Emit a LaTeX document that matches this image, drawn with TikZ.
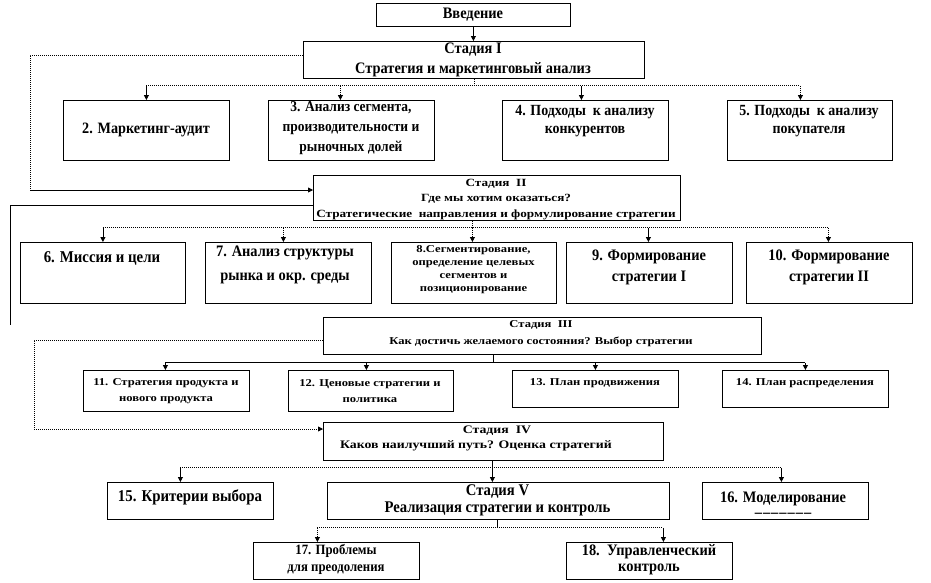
\documentclass[tikz,border=0pt]{standalone}
\usepackage{fontspec}
\setmainfont{Liberation Serif}
\newfontfamily\wdf[FakeStretch=1.2]{Liberation Serif}
\newfontfamily\cdf[FakeStretch=0.9]{Liberation Serif}
\usetikzlibrary{arrows.meta}
\newcommand\fsz[2]{\fontsize{#1}{#2}\selectfont\bfseries}
\begin{document}
\begin{tikzpicture}[x=1pt,y=-1pt,
  box/.style={draw, line width=0.8pt, inner sep=0pt, anchor=north west},
  txt/.style={align=center, inner sep=0pt},
  dot/.style={line width=0.8pt, dash pattern=on 1pt off 1pt},
  sol/.style={line width=0.8pt},
  tip/.style={-{Triangle[length=5pt,width=5pt]}}]
\fill[white] (0,0) rectangle (931,582);
\useasboundingbox (0,0) rectangle (931,582);

% ---- boxes and texts
\node[box, minimum width=194pt, minimum height=23pt] (vv) at (376,3) {};
\node[txt, font=\cdf\fsz{16}{20}] (tvv) at (473,15) {Введение};

\node[box, minimum width=341pt, minimum height=37pt] (s1) at (303,41) {};
\node[txt, font=\cdf\fsz{16}{20}] (ts1) at (473,60) {Стадия I\\Стратегия и маркетинговый анализ};

\node[box, minimum width=166pt, minimum height=60pt] (b2) at (63,100) {};
\node[txt, font=\cdf\fsz{15.8}{20}] (t2) at (146,130) {2. Маркетинг-аудит};
\node[box, minimum width=166pt, minimum height=60pt] (b3) at (268,100) {};
\node[txt, font=\cdf\fsz{15}{20}] (t3) at (351,128) {3. Анализ сегмента,\\производительности и\\рыночных долей};
\node[box, minimum width=166pt, minimum height=60pt] (b4) at (502,100) {};
\node[txt, font=\cdf\fsz{15.5}{18}] (t4) at (585,121) {4. Подходы\ \ к анализу\\конкурентов};
\node[box, minimum width=165pt, minimum height=60pt] (b5) at (727,100) {};
\node[txt, font=\cdf\fsz{15.5}{18}] (t5) at (809,121) {5. Подходы\ \ к анализу\\покупателя};

\node[box, minimum width=367pt, minimum height=45pt] (s2) at (313,175) {};
\node[txt, font=\wdf\fsz{11}{15.5}] (ts2) at (496,199.5) {Стадия\ \ II\\Где мы хотим оказаться?\\Стратегические\ \ направления и формулирование стратегии};

\node[box, minimum width=165pt, minimum height=61pt] (b6) at (20,242) {};
\node[txt, font=\cdf\fsz{16.5}{20}] (t6) at (102,258) {6. Миссия и цели};
\node[box, minimum width=166pt, minimum height=61pt] (b7) at (205,242) {};
\node[txt, font=\cdf\fsz{16}{24}] (t7) at (285,265) {7. Анализ структуры\\рынка и окр. среды};
\node[box, minimum width=165pt, minimum height=61pt] (b8) at (391,242) {};
\node[txt, font=\wdf\fsz{10.5}{13}] (t8) at (473.5,269.5) {8.Сегментирование,\\определение целевых\\сегментов и\\позиционирование};
\node[box, minimum width=166pt, minimum height=61pt] (b9) at (566,242) {};
\node[txt, font=\cdf\fsz{16}{21}] (t9) at (649,267.5) {9. Формирование\\стратегии I};
\node[box, minimum width=166pt, minimum height=61pt] (b10) at (746,242) {};
\node[txt, font=\cdf\fsz{16}{21}] (t10) at (829,267.5) {10. Формирование\\стратегии II};

\node[box, minimum width=438pt, minimum height=37pt] (s3) at (323,317) {};
\node[txt, font=\wdf\fsz{10.5}{17}] (ts3) at (541,333.5) {Стадия\ \ III\\Как достичь желаемого состояния? Выбор стратегии};

\node[box, minimum width=166pt, minimum height=41pt] (b11) at (83,370) {};
\node[txt, font=\wdf\fsz{10.5}{16}] (t11) at (166,391) {11. Стратегия продукта и\\нового продукта};
\node[box, minimum width=165pt, minimum height=41pt] (b12) at (288,370) {};
\node[txt, font=\wdf\fsz{10.5}{16}] (t12) at (370,391) {12. Ценовые стратегии и\\политика};
\node[box, minimum width=166pt, minimum height=37pt] (b13) at (512,370) {};
\node[txt, font=\wdf\fsz{10.5}{16}] (t13) at (595,383) {13. План продвижения};
\node[box, minimum width=166pt, minimum height=37pt] (b14) at (722,370) {};
\node[txt, font=\wdf\fsz{10.5}{16}] (t14) at (805,383) {14. План распределения};

\node[box, minimum width=340pt, minimum height=38pt] (s4) at (323,422) {};
\node[txt, font=\wdf\fsz{11.5}{15}] (ts4) at (476,438.5) {\hspace*{42pt}Стадия\ \ IV\\Каков наилучший путь? Оценка стратегий};

\node[box, minimum width=166pt, minimum height=37pt] (b15) at (107,482) {};
\node[txt, font=\cdf\fsz{16.5}{20}] (t15) at (190,497) {15. Критерии выбора};
\node[box, minimum width=342pt, minimum height=37pt] (s5) at (327,482) {};
\node[txt, font=\cdf\fsz{16.3}{17}] (ts5) at (497.5,500.5) {Стадия V\\Реализация стратегии и контроль};
\node[box, minimum width=166pt, minimum height=37pt] (b16) at (702,482) {};
\node[txt, font=\cdf\fsz{16}{15}] (t16) at (783,504.5) {16. Моделирование\\–\kern1pt–\kern1pt–\kern1pt–\kern1pt–\kern1pt–\kern1pt–};

\node[box, minimum width=166pt, minimum height=37pt] (b17) at (253,542) {};
\node[txt, font=\cdf\fsz{14.2}{17}] (t17) at (336,559.5) {17. Проблемы\\для преодоления};
\node[box, minimum width=166pt, minimum height=37pt] (b18) at (566,542) {};
\node[txt, font=\cdf\fsz{16}{16}] (t18) at (649,560) {18.\ \ Управленческий\\контроль};

% ---- connectors
\draw[sol,tip] (vv.south) -- (vv.south |- s1.north);

% Stage I bus
\path (s1.south) ++(0,7) coordinate (j1);
\coordinate (p2) at (b2.north);
\coordinate (p3) at ([xshift=-11pt]b3.north);
\coordinate (p4) at ([xshift=-4pt]b4.north);
\coordinate (p5) at ([xshift=-9.5pt]b5.north);
\draw[dot] (s1.south) -- (j1);
\draw[dot] (j1 -| p2) -- (j1 -| p5);
\draw[sol,tip] (j1 -| p2) -- (p2);
\draw[dot,tip] (j1 -| p3) -- (p3);
\draw[sol,tip] (j1 -| p4) -- (p4);
\draw[dot,tip] (j1 -| p5) -- (p5);

% feedback Stage I -> Stage II
\coordinate (c1) at (30,190);
\draw[dot] ([yshift=4.5pt]s1.west) -| (c1);
\draw[sol,tip] (c1) -- (c1 -| s2.west);

% Stage II left line
\coordinate (c2) at (10,325);
\draw[sol] ([yshift=-7.5pt]s2.west) -| (c2);

% Stage II bus
\coordinate (k2) at ([xshift=-24.5pt]s2.south);
\path (k2) ++(0,7) coordinate (j2);
\coordinate (p6) at (b6.north);
\coordinate (p7) at ([xshift=-5pt]b7.north);
\coordinate (p8) at ([xshift=-1.5pt]b8.north);
\coordinate (p9) at ([xshift=-1pt]b9.north);
\coordinate (p10) at ([xshift=-1pt]b10.north);
\draw[dot] (k2) -- (j2);
\draw[dot] (j2 -| p6) -- (j2 -| p10);
\draw[sol,tip] (j2 -| p6) -- (p6);
\draw[dot,tip] (j2 -| p7) -- (p7);
\draw[dot,tip] (j2 -| p8) -- (p8);
\draw[sol,tip] (j2 -| p9) -- (p9);
\draw[dot,tip] (j2 -| p10) -- (p10);

% Stage III bus
\coordinate (k3) at ([xshift=-49pt]s3.south);
\path (k3) ++(0,8) coordinate (j3);
\coordinate (p11) at ([xshift=-1pt]b11.north);
\coordinate (p12) at ([xshift=-4.5pt]b12.north);
\coordinate (p13) at (b13.north);
\coordinate (p14) at (b14.north);
\draw[sol] (k3) -- (j3);
\draw[sol] (j3 -| p11) -- (j3 -| p14);
\draw[sol,tip] (j3 -| p11) -- (p11);
\draw[sol,tip] (j3 -| p12) -- (p12);
\draw[sol,tip] (j3 -| p13) -- (p13);
\draw[sol,tip] (j3 -| p14) -- (p14);

% feedback Stage III -> Stage IV
\coordinate (c3) at (34,429);
\draw[dot,tip] ([yshift=-4.5pt]s3.west) -| (c3) -- (c3 -| s4.west);

% Stage IV bus
\coordinate (k4) at ([xshift=-1pt]s4.south);
\path (k4) ++(0,7) coordinate (j4);
\coordinate (p15) at ([xshift=-10pt]b15.north);
\coordinate (p16) at ([xshift=-4pt]b16.north);
\draw[sol,tip] (k4) -- (k4 |- s5.north);
\draw[dot] (j4 -| p15) -- (j4 -| p16);
\draw[sol,tip] (j4 -| p15) -- (p15);
\draw[sol,tip] (j4 -| p16) -- (p16);

% Stage V bus
\coordinate (k5) at ([xshift=-1pt]s5.south);
\path (k5) ++(0,8) coordinate (j5);
\coordinate (p17) at ([xshift=-19pt]b17.north);
\coordinate (p18) at ([xshift=14pt]b18.north);
\draw[sol] (k5) -- (j5);
\draw[dot] (j5 -| p17) -- (j5 -| p18);
\draw[dot,tip] (j5 -| p17) -- (p17);
\draw[sol,tip] (j5 -| p18) -- (p18);
\end{tikzpicture}
\end{document}
